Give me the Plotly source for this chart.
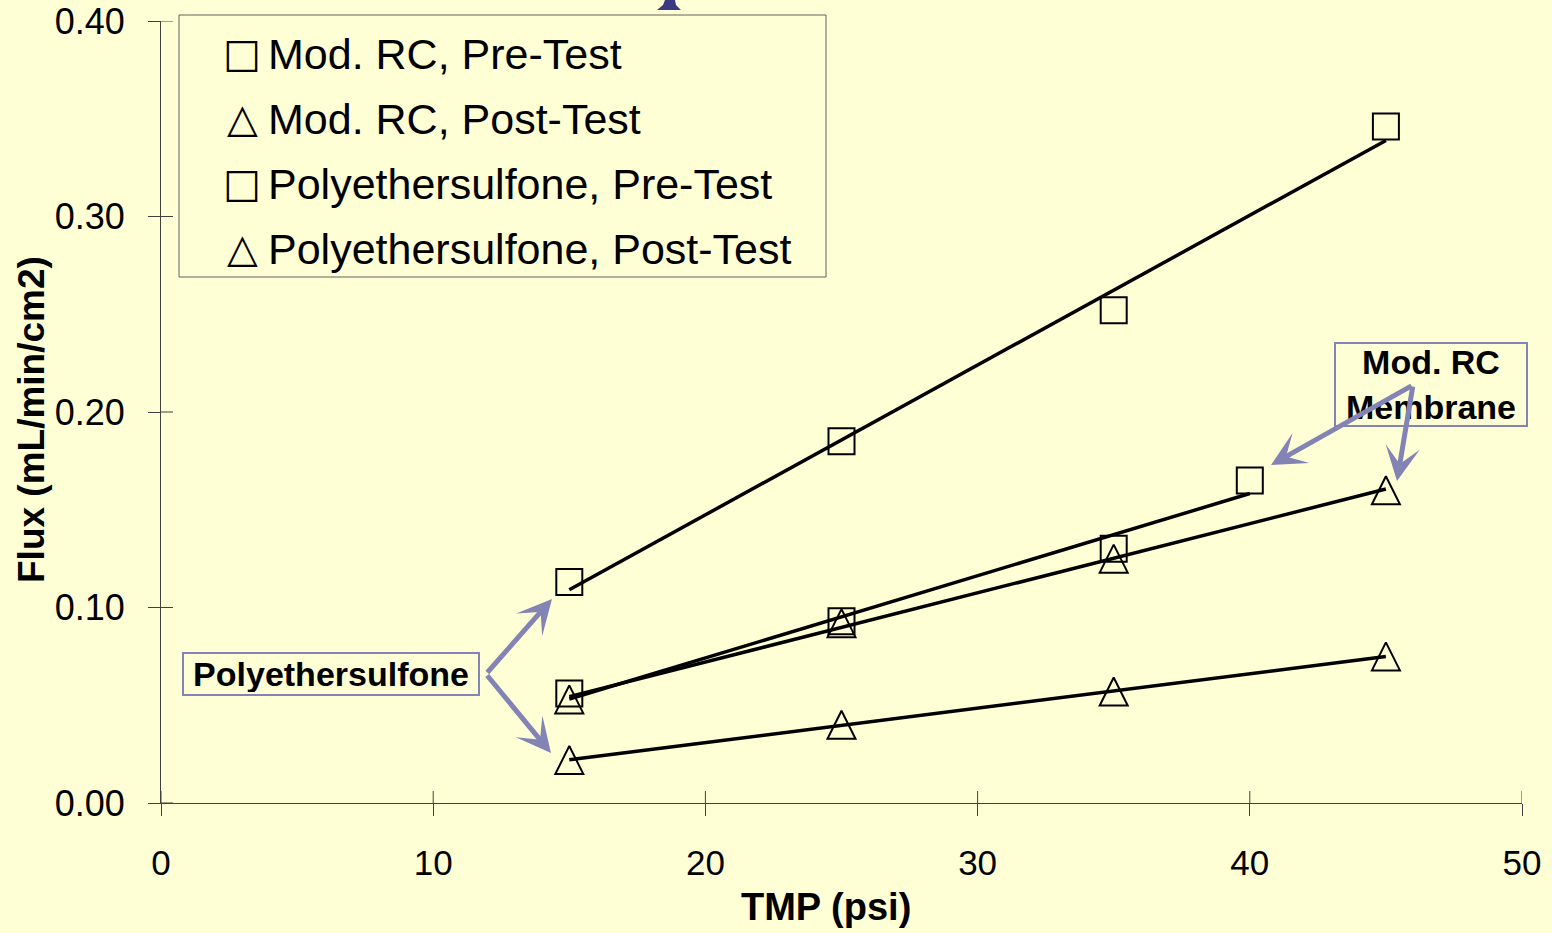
import numpy as np
import plotly.graph_objects as go

# ---- data ----
tmp_pes = [15, 25, 35, 45]
flux_pes_pre = [0.113, 0.185, 0.252, 0.346]
flux_pes_post = [0.022, 0.040, 0.057, 0.075]

tmp_rc_pre = [15, 25, 35, 40]
flux_rc_pre = [0.056, 0.093, 0.130, 0.165]
tmp_rc_post = [15, 25, 35, 45]
flux_rc_post = [0.053, 0.092, 0.125, 0.160]

series_names = ["Mod. RC, Pre-Test", "Mod. RC, Post-Test",
                "Polyethersulfone, Pre-Test", "Polyethersulfone, Post-Test"]
legend_glyphs = ["\u25A1", "\u25B3", "\u25A1", "\u25B3"]

x_ticks = [0, 10, 20, 30, 40, 50]
y_ticks = [0.0, 0.1, 0.2, 0.3, 0.4]
y_tick_labels = ["0.00", "0.10", "0.20", "0.30", "0.40"]

BG = "#FFFFD5"
AX = "#404040"
ARROW = "#8383B5"
FONT = "Liberation Sans, Arial, sans-serif"

fig = go.Figure()

SQ = dict(symbol="square-open", size=26, color="black", line=dict(color="black", width=2))
# arrow marker rotated so that its bounding box is centred on the point (taller triangle like Excel)
TRI = dict(symbol="arrow-down-open", angle=180, standoff=14, size=28, color="black",
           line=dict(color="black", width=2))

data = [
    (series_names[0], tmp_rc_pre, flux_rc_pre, SQ),
    (series_names[1], tmp_rc_post, flux_rc_post, TRI),
    (series_names[2], tmp_pes, flux_pes_pre, SQ),
    (series_names[3], tmp_pes, flux_pes_post, TRI),
]

for name, xs, ys, mk in data:
    fig.add_trace(go.Scatter(x=xs, y=ys, mode="markers", name=name, marker=mk,
                             showlegend=False, cliponaxis=False))

# linear trendlines (least squares fit of each series)
for name, xs, ys, mk in data:
    slope, icpt = np.polyfit(xs, ys, 1)
    xe = [min(xs), max(xs)]
    fig.add_trace(go.Scatter(x=xe, y=[slope * v + icpt for v in xe], mode="lines",
                             line=dict(color="black", width=3.5), showlegend=False,
                             name=name + " (linear)", hoverinfo="skip"))

W, H = 1552, 933
L, R, T, B = 161, 30, 21, 130
pw, ph = W - L - R, H - T - B

def px(xp):
    return (xp - L) / pw

def py(yp):
    return (H - B - yp) / ph

shapes = []
# inside halves of the crossing tick marks
for t in x_ticks:
    shapes.append(dict(type="line", xref="x", yref="y", x0=t, x1=t, ysizemode="pixel",
                       yanchor=0, y0=0, y1=12, line=dict(color=AX, width=1)))
for t in y_ticks:
    shapes.append(dict(type="line", xref="x", yref="y", y0=t, y1=t, xsizemode="pixel",
                       xanchor=0, x0=0, x1=12, line=dict(color=AX, width=1)))
# legend box (text box in the original)
shapes.append(dict(type="rect", xref="paper", yref="paper", x0=px(179), x1=px(826),
                   y0=py(277), y1=py(15), line=dict(color="#606060", width=1),
                   fillcolor=BG, layer="above"))
# cropped title fragment at top
path = (f"M{px(665)},{py(0)} L{px(675)},{py(0)} L{px(676)},{py(5)} L{px(681)},{py(10)} "
        f"L{px(657)},{py(10)} L{px(663)},{py(5)} Z")
shapes.append(dict(type="path", xref="paper", yref="paper", path=path,
                   fillcolor="#3A3A82", line=dict(width=0)))

annotations = []
rows_y = [53, 118, 183, 248]
for g, name, yy in zip(legend_glyphs, series_names, rows_y):
    annotations.append(dict(xref="paper", yref="paper", x=px(242), y=py(yy), text=g,
                            showarrow=False, xanchor="center", yanchor="middle",
                            font=dict(family="DejaVu Sans", size=40, color="black")))
    annotations.append(dict(xref="paper", yref="paper", x=px(266), y=py(yy + 1), text=name,
                            showarrow=False, xanchor="left", yanchor="middle",
                            font=dict(family=FONT, size=43, color="black")))

# axis titles (placed as in the original slide)
annotations.append(dict(xref="paper", yref="paper", x=px(826), y=py(907),
                        text="<b>TMP (psi)</b>", showarrow=False, xanchor="center",
                        yanchor="middle", font=dict(family=FONT, size=38, color="black")))
annotations.append(dict(xref="paper", yref="paper", x=px(32), y=py(420),
                        text="<b>Flux (mL/min/cm2)</b>", showarrow=False, textangle=-90,
                        xanchor="center", yanchor="middle",
                        font=dict(family=FONT, size=37, color="black")))

def dx(p):
    return (p - L) / pw * 50

def dy(p):
    return (H - B - p) / ph * 0.4

# callout boxes
annotations.append(dict(xref="x", yref="y", x=dx(331), y=dy(674),
                        text="<b>Polyethersulfone</b>", showarrow=False,
                        font=dict(family=FONT, size=34, color="black"),
                        bordercolor=ARROW, borderwidth=2, borderpad=2, bgcolor=BG,
                        width=290, height=36, xanchor="center", yanchor="middle"))
annotations.append(dict(xref="x", yref="y", x=dx(1431), y=dy(384.5),
                        text="<b>Mod. RC<br>Membrane</b>", showarrow=False,
                        font=dict(family=FONT, size=34, color="black"),
                        bordercolor=ARROW, borderwidth=2, borderpad=2, bgcolor=BG,
                        width=186, height=77, xanchor="center", yanchor="middle"))

arrows = [((486, 674), (552, 599)), ((486, 674), (551, 753)),
          ((1413, 385), (1271, 465)), ((1413, 385), (1397, 481))]
for (sx, sy), (tx, ty) in arrows:
    annotations.append(dict(xref="x", yref="y", axref="x", ayref="y", x=dx(tx), y=dy(ty),
                            ax=dx(sx), ay=dy(sy), text="", showarrow=True, arrowhead=3,
                            arrowsize=1.15, arrowwidth=5, arrowcolor=ARROW, standoff=0))

fig.update_layout(
    width=W, height=H,
    margin=dict(l=L, r=R, t=T, b=B, autoexpand=False),
    paper_bgcolor=BG, plot_bgcolor=BG,
    font=dict(family=FONT, size=35, color="black"),
    showlegend=False,
    shapes=shapes, annotations=annotations,
    xaxis=dict(range=[0, 50], tickvals=x_ticks, ticktext=[str(v) for v in x_ticks],
               showgrid=False, zeroline=False, showline=True, linecolor=AX, linewidth=1,
               ticks="outside", ticklen=12, tickcolor=AX, tickwidth=1,
               tickfont=dict(size=35), ticklabelstandoff=17),
    yaxis=dict(range=[0, 0.4], tickvals=y_ticks, ticktext=y_tick_labels,
               showgrid=False, zeroline=False, showline=True, linecolor=AX, linewidth=1,
               ticks="outside", ticklen=12, tickcolor=AX, tickwidth=1,
               tickfont=dict(size=36), ticklabelstandoff=16),
)

fig.write_html("out.html")
